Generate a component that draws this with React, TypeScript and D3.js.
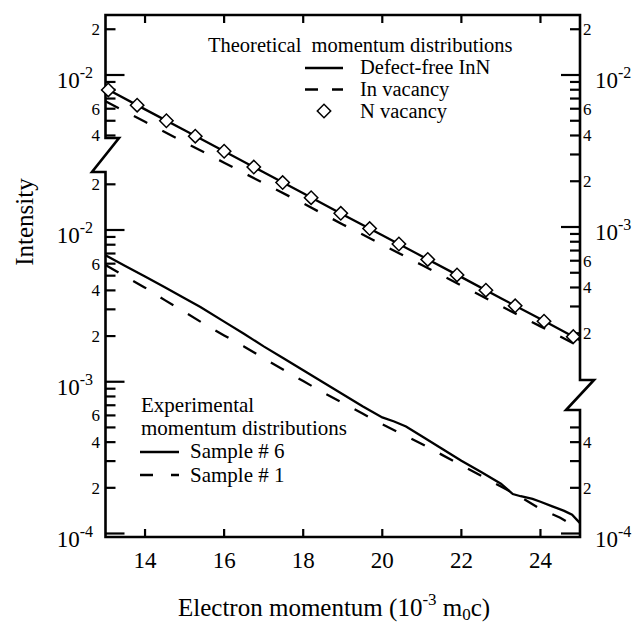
import React from 'react';
import * as d3 from 'd3';

// ---------- data ----------
// Theoretical curves: read on the upper (right-hand) axis section
const theoMomentum = [13, 14, 15, 16, 17, 18, 19, 20, 21, 22, 23, 24, 25];
const defectFreeInN = [8.17e-3, 5.94e-3, 4.33e-3, 3.15e-3, 2.29e-3, 1.67e-3, 1.21e-3, 8.83e-4, 6.43e-4, 4.68e-4, 3.4e-4, 2.48e-4, 1.8e-4];
const inVacancy = [6.71e-3, 4.92e-3, 3.61e-3, 2.65e-3, 1.94e-3, 1.43e-3, 1.04e-3, 7.66e-4, 5.62e-4, 4.12e-4, 3.02e-4, 2.22e-4, 1.63e-4];
const nVacancyMomentum = [13.07, 13.8, 14.54, 15.27, 16.0, 16.75, 17.48, 18.2, 18.95, 19.68, 20.42, 21.15, 21.89, 22.62, 23.36, 24.09, 24.83];
const nVacancy = [7.98e-3, 6.33e-3, 5.0e-3, 3.96e-3, 3.15e-3, 2.48e-3, 1.96e-3, 1.56e-3, 1.23e-3, 9.77e-4, 7.73e-4, 6.12e-4, 4.84e-4, 3.84e-4, 3.03e-4, 2.4e-4, 1.9e-4];

// Experimental curves: read on the lower (left-hand) axis section
const sample6Momentum = [13, 13.5, 14, 14.5, 15, 15.4, 16, 16.5, 17, 17.5, 18, 18.5, 19, 19.5, 20, 20.3, 20.6, 21, 21.5, 22, 22.5, 23, 23.3, 23.5, 23.8, 24, 24.3, 24.6, 24.8, 25];
const sample6 = [6.81e-3, 5.79e-3, 4.93e-3, 4.19e-3, 3.55e-3, 3.11e-3, 2.49e-3, 2.07e-3, 1.71e-3, 1.43e-3, 1.19e-3, 9.93e-4, 8.28e-4, 6.9e-4, 5.82e-4, 5.47e-4, 5.07e-4, 4.37e-4, 3.63e-4, 3.02e-4, 2.54e-4, 2.13e-4, 1.82e-4, 1.76e-4, 1.69e-4, 1.62e-4, 1.51e-4, 1.41e-4, 1.33e-4, 1.17e-4];
const sample1Momentum = [13, 13.5, 14, 14.5, 15, 15.5, 16, 16.5, 17, 17.5, 18, 18.5, 19, 19.5, 20, 20.5, 21, 21.5, 22, 22.5, 23, 23.5, 24, 24.5, 25];
const sample1 = [5.89e-3, 4.95e-3, 4.17e-3, 3.45e-3, 2.88e-3, 2.4e-3, 2.02e-3, 1.71e-3, 1.43e-3, 1.2e-3, 1.01e-3, 8.51e-4, 7.24e-4, 6.17e-4, 5.25e-4, 4.52e-4, 3.89e-4, 3.31e-4, 2.82e-4, 2.4e-4, 2.04e-4, 1.74e-4, 1.45e-4, 1.27e-4, 1.06e-4];

// ---------- axis ticks ----------
const xTicks = [14, 16, 18, 20, 22, 24];
const leftUpperRange = [4e-3, 2e-2];   // theoretical section, left axis
const leftLowerRange = [1e-4, 2e-2];   // experimental section, left axis
const rightUpperRange = [2e-4, 2e-2];  // theoretical section, right axis
const rightLowerRange = [1e-4, 5e-4];  // experimental section, right axis
const labelledMantissas = [2, 4, 6];

const FONT = '"Liberation Serif", "Times New Roman", Times, serif';

export default function App() {
  const W = 644, H = 631;
  const L = 105.5, R = 580, T = 15, B = 537;
  const x = d3.scaleLinear().domain([13, 25]).range([L, R]);
  const yExp = d3.scaleLog().domain([1e-4, 1e-2]).range([533.5, 230]);
  const yTheo = d3.scaleLog().domain([1e-4, 1e-2]).range([379, 75]);

  const lineOf = (xs: number[], ys: number[], ys2: d3.ScaleLogarithmic<number, number>) =>
    d3.line<number>().x((_, i) => x(xs[i])).y((v) => ys2(v))(ys) || '';

  const mant = (v: number) => {
    const e = Math.floor(Math.log10(v) + 1e-9);
    return { m: Math.round(v / Math.pow(10, e)), e };
  };

  const ticksIn = (range: number[]) => d3.scaleLog().domain(range).ticks();

  type Side = 'left' | 'right';
  const renderTicks = (range: number[], scale: d3.ScaleLogarithmic<number, number>, side: Side, key: string) => {
    const ax = side === 'left' ? L : R;
    const dir = side === 'left' ? 1 : -1;
    return ticksIn(range).map((v, i) => {
      const { m, e } = mant(v);
      const y = scale(v);
      const major = m === 1;
      const len = major ? 19 : 10;
      const els: React.ReactNode[] = [
        <line key="t" x1={ax} x2={ax + dir * len} y1={y} y2={y} stroke="#000" strokeWidth={2.2} />,
      ];
      if (major) {
        els.push(
          <text key="l" x={side === 'left' ? 93 : 595} y={y + 13} textAnchor={side === 'left' ? 'end' : 'start'}
            fontFamily={FONT} fontSize={23}>
            <tspan>10</tspan>
            <tspan dy={-10} fontSize={16}>{String(e)}</tspan>
          </text>
        );
      } else if (labelledMantissas.includes(m)) {
        els.push(
          <text key="l" x={side === 'left' ? 100 : 583} y={y + 6} textAnchor={side === 'left' ? 'end' : 'start'}
            fontFamily={FONT} fontSize={17}>{String(m)}</text>
        );
      }
      return <g key={key + i}>{els}</g>;
    });
  };

  const diamond = d3.symbol().type(d3.symbolSquare).size(90)() || '';

  const framePath =
    `M${L},${T}H${R}` +
    `M${L},${T}V138L119,138L92,172L${L},172V${B}` +
    `M${R},${T}V380L594,380L566,410L${R},410V${B}` +
    `M${L},${B}H${R}`;

  return (
    <svg width={W} height={H} style={{ position: 'absolute', left: 0, top: 0, background: '#fff' }}>
      <rect width={W} height={H} fill="#fff" />
      {/* x ticks top & bottom */}
      {xTicks.map((t) => (
        <g key={'x' + t}>
          <line x1={x(t)} x2={x(t)} y1={T} y2={T + 8} stroke="#000" strokeWidth={2.2} />
          <line x1={x(t)} x2={x(t)} y1={B} y2={B - 8} stroke="#000" strokeWidth={2.2} />
          <text x={x(t)} y={568} textAnchor="middle" fontFamily={FONT} fontSize={23}>{String(t)}</text>
        </g>
      ))}
      {renderTicks(leftUpperRange, yTheo, 'left', 'lu')}
      {renderTicks(leftLowerRange, yExp, 'left', 'll')}
      {renderTicks(rightUpperRange, yTheo, 'right', 'ru')}
      {renderTicks(rightLowerRange, yExp, 'right', 'rl')}
      <path d={framePath} fill="none" stroke="#000" strokeWidth={2.6} strokeLinejoin="miter" strokeLinecap="square" />

      {/* theoretical curves */}
      <path d={lineOf(theoMomentum, defectFreeInN, yTheo)} fill="none" stroke="#000" strokeWidth={2.3} />
      <path d={lineOf(theoMomentum, inVacancy, yTheo)} fill="none" stroke="#000" strokeWidth={2.3} strokeDasharray="15,17" />
      {nVacancy.map((v, i) => (
        <path key={'d' + i} d={diamond} transform={`translate(${x(nVacancyMomentum[i])},${yTheo(v)}) rotate(45)`}
          fill="#fff" stroke="#000" strokeWidth={1.5} />
      ))}

      {/* experimental curves */}
      <path d={lineOf(sample6Momentum, sample6, yExp)} fill="none" stroke="#000" strokeWidth={2.3} />
      <path d={lineOf(sample1Momentum, sample1, yExp)} fill="none" stroke="#000" strokeWidth={2.3} strokeDasharray="15,17" />

      {/* upper legend */}
      <g fontFamily={FONT} fontSize={20.5}>
        <text x={208} y={52} style={{ whiteSpace: 'pre' }}>{'Theoretical  momentum distributions'}</text>
        <line x1={305} x2={343} y1={68} y2={68} stroke="#000" strokeWidth={2.3} />
        <text x={360} y={74}>Defect-free InN</text>
        <line x1={305} x2={343} y1={89.5} y2={89.5} stroke="#000" strokeWidth={2.3} strokeDasharray="13,14" />
        <text x={360} y={96}>In vacancy</text>
        <path d={diamond} transform="translate(324,111) rotate(45)" fill="#fff" stroke="#000" strokeWidth={1.5} />
        <text x={360} y={118}>N vacancy</text>
      </g>

      {/* lower legend */}
      <g fontFamily={FONT} fontSize={21}>
        <text x={141} y={412}>Experimental</text>
        <text x={141} y={435}>momentum distributions</text>
        <line x1={140} x2={179} y1={452} y2={452} stroke="#000" strokeWidth={2.3} />
        <text x={190} y={458}>Sample # 6</text>
        <line x1={140} x2={179} y1={475} y2={475} stroke="#000" strokeWidth={2.3} strokeDasharray="13,18" />
        <text x={190} y={482}>Sample # 1</text>
      </g>

      {/* axis titles */}
      <text x={178} y={616} fontFamily={FONT} fontSize={25}>
        <tspan>Electron momentum (10</tspan>
        <tspan dy={-11} fontSize={17}>-3</tspan>
        <tspan dy={11}> m</tspan>
        <tspan dy={4} fontSize={17}>0</tspan>
        <tspan dy={-4}>c)</tspan>
      </text>
      <text transform="translate(33,222) rotate(-90)" textAnchor="middle" fontFamily={FONT} fontSize={25}>Intensity</text>
    </svg>
  );
}
